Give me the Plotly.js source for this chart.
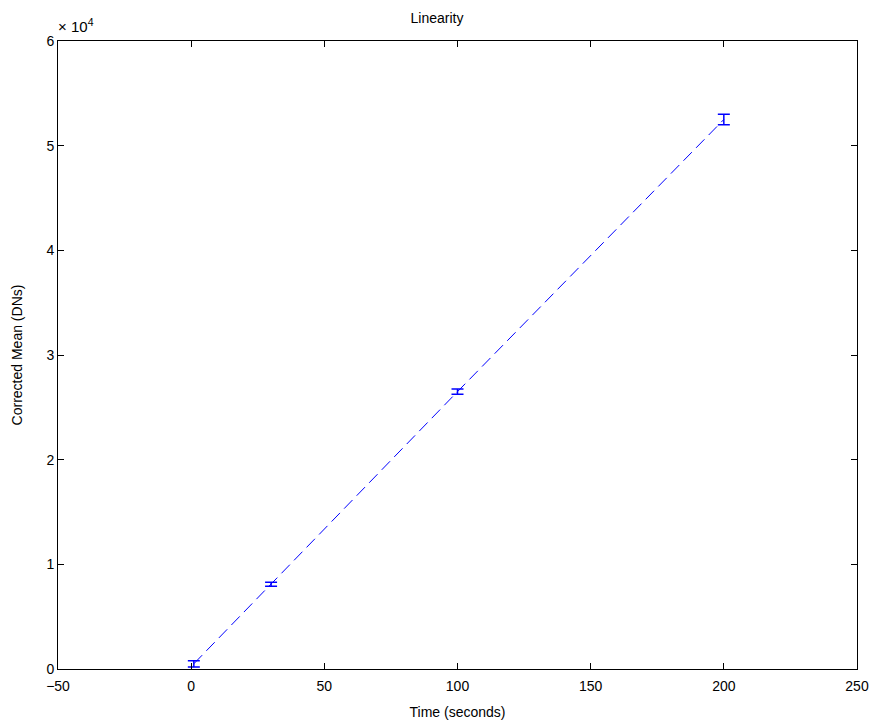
<!DOCTYPE html>
<html><head><meta charset="utf-8">
<script src="https://cdn.plot.ly/plotly-3.0.1.min.js"></script>
<style>html,body{margin:0;padding:0;background:#fff}#chart{width:874px;height:726px}</style>
</head><body><div id="chart"></div>
<script>
const timeSeconds = [1, 30, 100, 200];
const correctedMean = [500, 8100, 26500, 52500];
const meanError = [300, 200, 250, 500];
const yTickVals = [0, 10000, 20000, 30000, 40000, 50000, 60000];
const yTickText = ['0', '1', '2', '3', '4', '5', '6'];
const xTickVals = [-50, 0, 50, 100, 150, 200, 250];

const font = {family: 'Liberation Sans, Arial, sans-serif', size: 14, color: '#000'};
Plotly.newPlot('chart', [{
  x: timeSeconds, y: correctedMean, type: 'scatter', mode: 'lines',
  line: {color: '#0000ff', width: 1, dash: '12px,6px'},
  error_y: {type: 'data', array: meanError, visible: true, color: '#0000ff', thickness: 1.5, width: 6},
  hoverinfo: 'none'
}], {
  width: 874, height: 726,
  margin: {l: 58, r: 17, t: 41, b: 57},
  paper_bgcolor: '#fff', plot_bgcolor: '#fff',
  showlegend: false, font: font,
  title: {text: 'Linearity', x: 0.5, xanchor: 'center', y: 0.975, yanchor: 'middle', font: font},
  xaxis: {range: [-50, 250], tickvals: xTickVals, ticks: 'inside', ticklen: 6, tickcolor: '#000',
    showline: true, linecolor: '#000', linewidth: 1, mirror: 'ticks', showgrid: false, zeroline: false,
    ticklabelstandoff: 4,
    title: {text: 'Time (seconds)', font: font, standoff: 14}, tickfont: font},
  yaxis: {range: [0, 60000], tickvals: yTickVals, ticktext: yTickText, ticks: 'inside', ticklen: 6, tickcolor: '#000',
    showline: true, linecolor: '#000', linewidth: 1, mirror: 'ticks', showgrid: false, zeroline: false,
    title: {text: 'Corrected Mean (DNs)', font: font, standoff: 20}, tickfont: font},
  annotations: [{xref: 'paper', yref: 'paper', x: 0, y: 1, xanchor: 'left', yanchor: 'bottom', yshift: 4, xshift: -2,
    text: '\u00d7 10<sup>4</sup>', showarrow: false, font: {family: font.family, size: 15, color: '#000'}}]
}, {displayModeBar: false, staticPlot: true});
</script></body></html>
